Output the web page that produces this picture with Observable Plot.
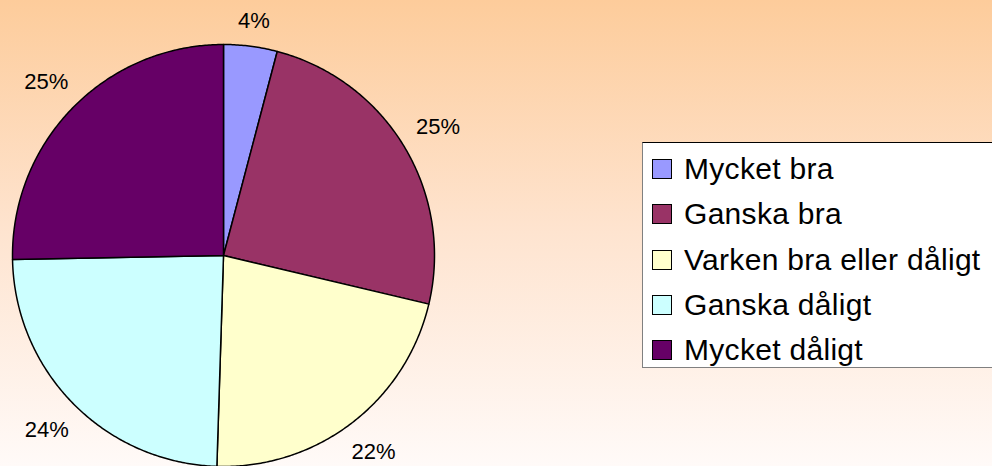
<!DOCTYPE html>
<html>
<head>
<meta charset="utf-8">
<script src="https://cdn.jsdelivr.net/npm/d3@7"></script>
<script src="https://cdn.jsdelivr.net/npm/@observablehq/plot@0.6"></script>
<style>
  html, body { margin: 0; padding: 0; width: 992px; height: 466px; overflow: hidden; }
  body { background: linear-gradient(to bottom, #FDCC9B 0%, #FEE4D0 50%, #FFFAF8 100%); font-family: "Liberation Sans", Arial, sans-serif; position: relative; }
  #chart { position: absolute; left: 0; top: 0; }
  #legend { position: absolute; left: 642px; top: 142px; width: 400px; height: 226px; background: #fff;
    border-top: 1px solid #000; border-left: 1px solid #808080; border-bottom: 1.5px solid #808080; box-sizing: border-box; }
  .row { position: absolute; left: 0; height: 30px; display: flex; align-items: center; font-size: 30px; letter-spacing: 0.3px; color: #000; white-space: nowrap; }
  .sw { width: 18px; height: 18px; border: 1px solid #000; margin-left: 9px; margin-right: 12px; }
</style>
</head>
<body>
<div id="chart"></div>
<div id="legend"></div>
<script>
const categories = ["Mycket bra", "Ganska bra", "Varken bra eller dåligt", "Ganska dåligt", "Mycket dåligt"];
const values = [4.1, 24.6, 21.8, 24.2, 25.3];
const colors = ["#9999FF", "#993366", "#FFFFCC", "#CCFFFF", "#660066"];

const W = 992, H = 466;
const cx = 223, cy = 255, R = 211;

const total = d3.sum(values);
const slices = [];
let acc = 0;
values.forEach((v, i) => {
  const a0 = acc / total * 2 * Math.PI;
  acc += v;
  const a1 = acc / total * 2 * Math.PI;
  slices.push({cat: categories[i], value: v, a0, a1});
});

// polygon points for each slice
const pts = [];
slices.forEach((s, i) => {
  pts.push({cat: s.cat, x: cx, y: cy});
  const n = Math.max(4, Math.ceil((s.a1 - s.a0) / (Math.PI / 360)));
  for (let k = 0; k <= n; k++) {
    const a = s.a0 + (s.a1 - s.a0) * k / n;
    pts.push({cat: s.cat, x: cx + R * Math.sin(a), y: cy - R * Math.cos(a)});
  }
});

// labels outside the pie
const labels = slices.map(s => {
  const a = (s.a0 + s.a1) / 2;
  const text = Math.round(s.value / total * 100) + "%";
  const halfW = text.length * 7.4;
  const halfH = 8;
  const r = R + 16 + Math.abs(Math.sin(a)) * halfW + Math.abs(Math.cos(a)) * halfH;
  return {text, x: cx + r * Math.sin(a), y: cy - r * Math.cos(a)};
});

const plot = Plot.plot({
  width: W, height: H,
  margin: 0,
  style: {background: "transparent", fontFamily: "'Liberation Sans', Arial, sans-serif"},
  x: {domain: [0, W], range: [0, W], axis: null},
  y: {domain: [0, H], range: [0, H], axis: null},
  color: {domain: categories, range: colors},
  marks: [
    Plot.line(pts, {x: "x", y: "y", z: "cat", fill: "cat", stroke: "#000", strokeWidth: 1.5, curve: "linear-closed", strokeLinejoin: "round"}),
    Plot.text(labels, {x: "x", y: "y", text: "text", fontSize: 22, fill: "#000", textAnchor: "middle"})
  ]
});
document.getElementById("chart").appendChild(plot);

const legend = document.getElementById("legend");
categories.forEach((c, i) => {
  const row = document.createElement("div");
  row.className = "row";
  row.style.top = (11 + i * 45.25) + "px";
  const sw = document.createElement("div");
  sw.className = "sw";
  sw.style.background = colors[i];
  const t = document.createElement("span");
  t.textContent = c;
  row.appendChild(sw);
  row.appendChild(t);
  legend.appendChild(row);
});
</script>
</body>
</html>
